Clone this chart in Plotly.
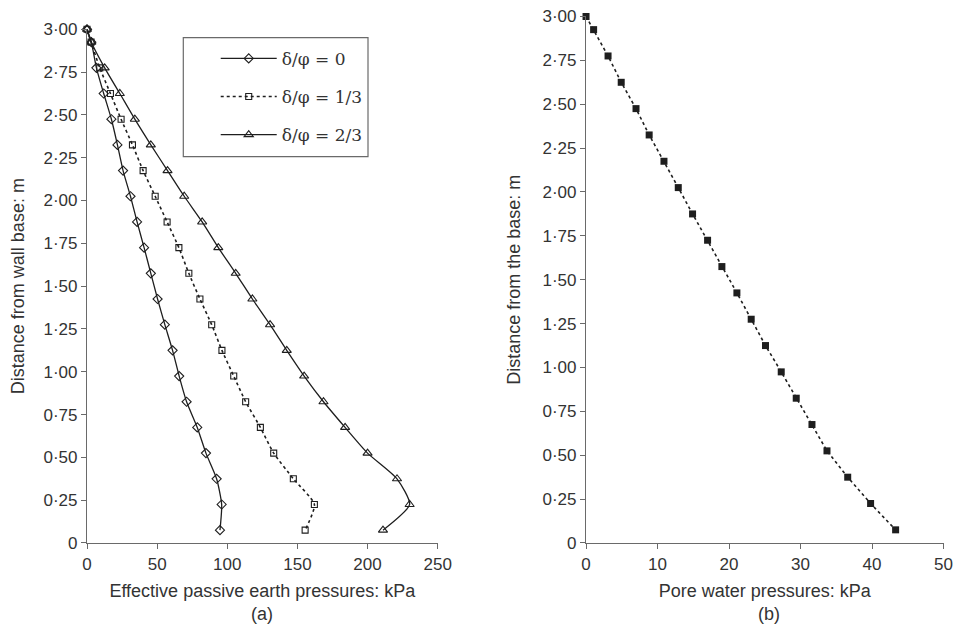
import plotly.graph_objects as go

# ---- data ----
depth = [3.00, 2.925, 2.775, 2.625, 2.475, 2.325, 2.175, 2.025, 1.875, 1.725, 1.575,
         1.425, 1.275, 1.125, 0.975, 0.825, 0.675, 0.525, 0.375, 0.225, 0.075]

p_delta0 = [0, 3.1, 6.7, 11.9, 17.4, 21.7, 25.7, 31.0, 35.7, 40.7, 45.5,
            50.3, 55.5, 61.0, 65.7, 71.0, 78.6, 84.8, 92.4, 96.0, 94.8]
p_delta13 = [0, 2.9, 9.1, 16.7, 24.3, 32.4, 40.0, 48.6, 57.1, 65.5, 72.6,
             80.5, 88.9, 96.2, 104.6, 113.1, 123.6, 133.1, 147.1, 162.1, 155.5]
p_delta23 = [0, 3.1, 12.6, 23.4, 34.1, 45.5, 57.4, 69.3, 82.1, 93.6, 106.0,
             117.9, 130.5, 142.4, 154.8, 168.6, 184.0, 200.0, 221.0, 230.0, 211.0]
pore = [0, 1.06, 3.08, 4.92, 6.99, 8.83, 10.9, 12.9, 14.9, 17.0, 19.0,
        21.1, 23.1, 25.1, 27.3, 29.4, 31.6, 33.7, 36.6, 39.8, 43.3]

series_names = ["δ/φ = 0", "δ/φ = 1/3", "δ/φ = 2/3"]

y_tickvals = [0, 0.25, 0.5, 0.75, 1.0, 1.25, 1.5, 1.75, 2.0, 2.25, 2.5, 2.75, 3.0]
y_ticktext = ["0", "0·25", "0·50", "0·75", "1·00", "1·25", "1·50", "1·75",
              "2·00", "2·25", "2·50", "2·75", "3·00"]
xa_ticks = [0, 50, 100, 150, 200, 250]
xb_ticks = [0, 10, 20, 30, 40, 50]

# ---- style ----
LINE = "#1e1e1e"
AXIS = "#6a6a6a"
TEXT = "#333333"
SANS = "Liberation Sans, Arial, sans-serif"
SERIF = "DejaVu Serif, Liberation Serif, serif"

fig = go.Figure()

fig.add_trace(go.Scatter(
    x=p_delta0, y=depth, name=series_names[0], legendgroup="a", mode="lines+markers",
    line=dict(color=LINE, width=1.3, shape="spline", smoothing=0.6),
    marker=dict(symbol="diamond-open", size=7, color=LINE, line=dict(width=1.1)),
    cliponaxis=False, xaxis="x", yaxis="y"))
fig.add_trace(go.Scatter(
    x=p_delta13, y=depth, name=series_names[1], legendgroup="b", mode="lines+markers",
    line=dict(color=LINE, width=1.6, dash="dot", shape="spline", smoothing=0.6),
    marker=dict(symbol="square-open", size=6, color=LINE, line=dict(width=1.1)),
    cliponaxis=False, xaxis="x", yaxis="y"))
fig.add_trace(go.Scatter(
    x=p_delta23, y=depth, name=series_names[2], legendgroup="c", mode="lines+markers",
    line=dict(color=LINE, width=1.3, shape="spline", smoothing=0.6),
    marker=dict(symbol="triangle-up-open", size=8, color=LINE, line=dict(width=1.1)),
    cliponaxis=False, xaxis="x", yaxis="y"))
fig.add_trace(go.Scatter(
    x=pore, y=depth, name="Pore water", mode="lines+markers", showlegend=False,
    line=dict(color=LINE, width=1.6, dash="dot"),
    marker=dict(symbol="square", size=7, color=LINE),
    cliponaxis=False, xaxis="x2", yaxis="y2"))

axis_common = dict(showgrid=False, zeroline=False, showline=True, linecolor=AXIS,
                   linewidth=1.2, ticks="outside", ticklen=5, tickcolor=AXIS,
                   tickwidth=1.2, automargin=False, ticklabeloverflow="allow",
                   tickfont=dict(family=SANS, size=17, color=TEXT))

# page has an 8px body margin: figure is sized/placed to compensate
fig.update_layout(
    width=953, height=622,
    margin=dict(l=79, r=13, t=7, b=87),
    paper_bgcolor="white", plot_bgcolor="white",
    font=dict(family=SANS, color=TEXT),
    xaxis=dict(domain=[0, 0.4073], range=[0, 250], tickvals=xa_ticks,
               title=dict(text="Effective passive earth pressures: kPa",
                          font=dict(family=SANS, size=18, color=TEXT), standoff=11),
               anchor="y", **axis_common),
    yaxis=dict(domain=[0, 0.9729], range=[0, 3], tickvals=y_tickvals, ticktext=y_ticktext,
               title=dict(text="Distance from wall base: m",
                          font=dict(family=SANS, size=18, color=TEXT), standoff=18),
               anchor="x", **axis_common),
    xaxis2=dict(domain=[0.5796, 0.9948], range=[0, 50], tickvals=xb_ticks,
                title=dict(text="Pore water pressures: kPa",
                           font=dict(family=SANS, size=18, color=TEXT), standoff=11),
                anchor="y2", **axis_common),
    yaxis2=dict(domain=[0, 0.9972], range=[0, 3], tickvals=y_tickvals, ticktext=y_ticktext,
                title=dict(text="Distance from the base: m",
                           font=dict(family=SANS, size=18, color=TEXT), standoff=17),
                anchor="x2", **axis_common),
    showlegend=True,
    legend=dict(x=0.1495, y=0.951, xanchor="left", yanchor="top",
                bgcolor="rgba(0,0,0,0)", borderwidth=0,
                font=dict(family=SERIF, size=17, color=TEXT),
                itemwidth=56, tracegroupgap=13, traceorder="grouped"),
)

# legend frame
fig.add_shape(type="rect", xref="paper", yref="paper",
              x0=(183.3 - 87) / 861, x1=(368 - 87) / 861,
              y0=(543 - 156.7) / 528, y1=(543 - 37.7) / 528,
              line=dict(color=AXIS, width=1.2), fillcolor="rgba(0,0,0,0)", layer="below")

# panel labels
fig.add_annotation(text="(a)", xref="paper", yref="paper", x=(262 - 87) / 861,
                   y=(543 - 614) / 528, showarrow=False, xanchor="center", yanchor="middle",
                   font=dict(family=SANS, size=18, color=TEXT))
fig.add_annotation(text="(b)", xref="paper", yref="paper", x=(769 - 87) / 861,
                   y=(543 - 614) / 528, showarrow=False, xanchor="center", yanchor="middle",
                   font=dict(family=SANS, size=18, color=TEXT))

fig.write_html("out.html")
